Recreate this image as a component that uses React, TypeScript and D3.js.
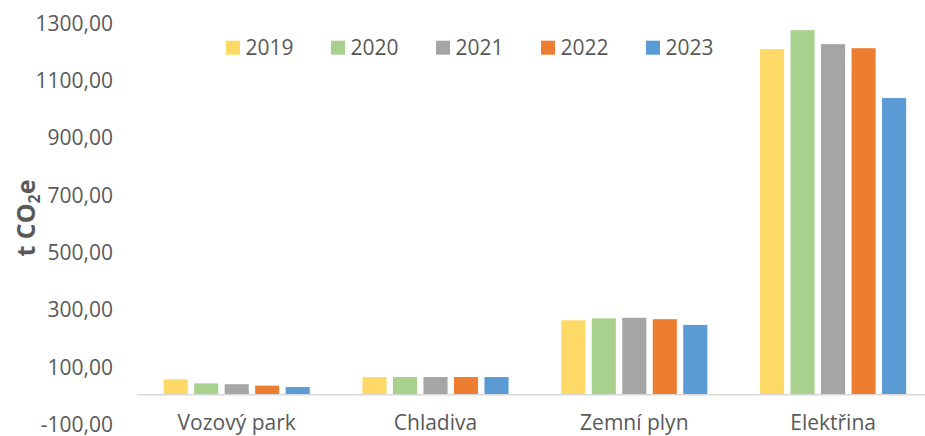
import React from "react";
import * as d3 from "d3";

const categories = ["Vozový park", "Chladiva", "Zemní plyn", "Elektřina"];
const years = ["2019", "2020", "2021", "2022", "2023"];
const values2019 = [54, 62, 260, 1207];
const values2020 = [40, 62, 267, 1273];
const values2021 = [37, 62, 269, 1224];
const values2022 = [32, 62, 264, 1210];
const values2023 = [27, 62, 244, 1036];
const seriesValues = [values2019, values2020, values2021, values2022, values2023];
const colors = ["#FFD966", "#A9D18E", "#A5A5A5", "#ED7D31", "#5B9BD5"];
const yTicks = [-100, 100, 300, 500, 700, 900, 1100, 1300];

const W = 925;
const H = 436;
const FONT = "'Open Sans', 'Noto Sans', sans-serif";
const TEXT = "#595959";

export default function App() {
  const x = d3.scaleBand<string>().domain(categories).range([137.3, 932.5]).padding(0);
  const y = d3.scaleLinear().domain([-100, 1300]).range([423.45, 22.4]);
  const groupW = 152.5;
  const inner = d3
    .scaleBand<string>()
    .domain(years)
    .range([0, groupW])
    .paddingInner(0.21)
    .paddingOuter(0.105);
  const fmt = (v: number) =>
    d3.format(".2f")(v).replace(".", ",").replace("\u2212", "-");

  const legendX = d3.scaleLinear().domain([0, 1]).range([226, 331]);

  return (
    <svg
      width={W}
      height={H}
      style={{ position: "absolute", left: 0, top: 0, background: "#fff" }}
      fontFamily={FONT}
    >
      {/* y tick labels */}
      {yTicks.map((t) => (
        <text key={t} x={113} y={y(t) + 8.5} textAnchor="end" fontSize={21} fill={TEXT}>
          {fmt(t)}
        </text>
      ))}
      {/* bars */}
      {categories.map((c, ci) => {
        const cx = (x(c) as number) + x.bandwidth() / 2 - groupW / 2;
        return years.map((yr, si) => {
          const v = seriesValues[si][ci];
          return (
            <rect
              key={c + yr}
              x={cx + (inner(yr) as number)}
              y={y(v)}
              width={inner.bandwidth()}
              height={y(0) - y(v)}
              fill={colors[si]}
            />
          );
        });
      })}
      {/* zero axis line */}
      <line x1={137.3} x2={W} y1={y(0)} y2={y(0)} stroke="#D9D9D9" strokeWidth={1.5} />
      {/* category labels */}
      {categories.map((c) => (
        <text
          key={c}
          x={(x(c) as number) + x.bandwidth() / 2}
          y={430}
          textAnchor="middle"
          fontSize={21}
          fill={TEXT}
        >
          {c}
        </text>
      ))}
      {/* y axis title */}
      <text
        transform="translate(35,218) rotate(-90)"
        textAnchor="middle"
        fontSize={25}
        fontWeight="bold"
        fill={TEXT}
      >
        t CO
        <tspan fontSize={16} dy={5}>
          2
        </tspan>
        <tspan dy={-5}>e</tspan>
      </text>
      {/* legend */}
      {years.map((yr, i) => (
        <g key={yr} transform={`translate(${legendX(i)},0)`}>
          <rect x={0} y={40.7} width={14} height={14} fill={colors[i]} />
          <text x={19.5} y={55} fontSize={21} fill={TEXT}>
            {yr}
          </text>
        </g>
      ))}
    </svg>
  );
}
